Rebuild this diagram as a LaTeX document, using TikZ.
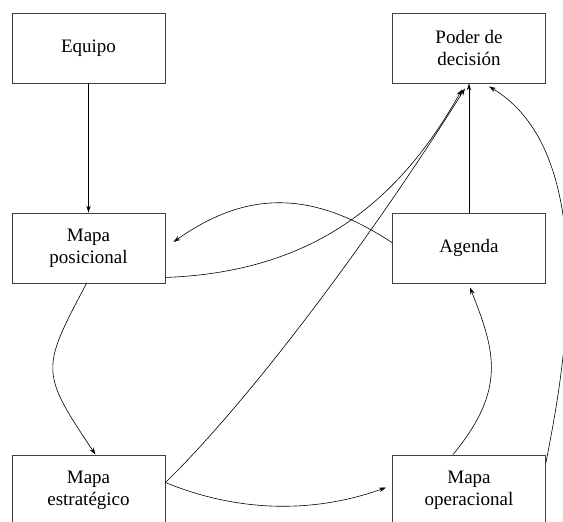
\documentclass[tikz,border=0pt]{standalone}
\usepackage{fontspec}
\setmainfont{Liberation Serif}
\usetikzlibrary{arrows.meta,calc}
\begin{document}
\begin{tikzpicture}[x=1pt,y=-1pt,
  box/.style={draw=black!75,line width=0.9pt,minimum width=153pt,minimum height=70pt,align=center,font=\fontsize{19}{22}\selectfont,inner sep=0pt},
  conn/.style={line width=0.6pt,-{Stealth[length=7pt,width=4.5pt]}}]
\useasboundingbox (0,0) rectangle (563,522);
\clip (0,0) rectangle (563,522);
\node[box] (equipo) at (88.5,48) {Equipo};
\node[box] (poder) at (469,48) {Poder de\\decisión};
\node[box] (pos) at (88.5,248) {Mapa\\posicional};
\node[box] (agenda) at (469,248) {Agenda};
\node[box] (est) at (88.5,490) {Mapa\\estratégico};
\node[box] (op) at (469,490) {Mapa\\operacional};
\draw[conn] (equipo.south) -- (pos.north);
\draw[conn,line width=0.9pt] (agenda.north) -- (poder.south);
\draw[conn] (agenda.176) .. controls (312,190) and (247,190) .. ($(pos.east)+(8,-6)$);
\draw[conn] ($(pos.south east)+(0,-6)$) .. controls (315,272) and (400,200) .. ($(poder.south)+(-7,6)$);
\draw[conn] ($(est.north east)+(0,28)$) .. controls (250,400) and (370,240) .. ($(poder.south)+(-4,5)$);
\draw[conn] ($(est.north east)+(0,28)$) .. controls (240,513) and (315,513) .. ($(op.north west)+(-6,33)$);
\draw[conn] ($(pos.south)+(-2,0)$) .. controls (41,369) and (40,372) .. ($(est.north)+(7,0)$);
\draw[conn] ($(op.north)+(-16,0)$) .. controls (507,389) and (495,351) .. ($(agenda.south)+(1,4)$);
\draw[conn] ($(op.north east)+(0,8)$) .. controls (557,404) and (610,159) .. ($(poder.south)+(20,3)$);
\end{tikzpicture}
\end{document}
